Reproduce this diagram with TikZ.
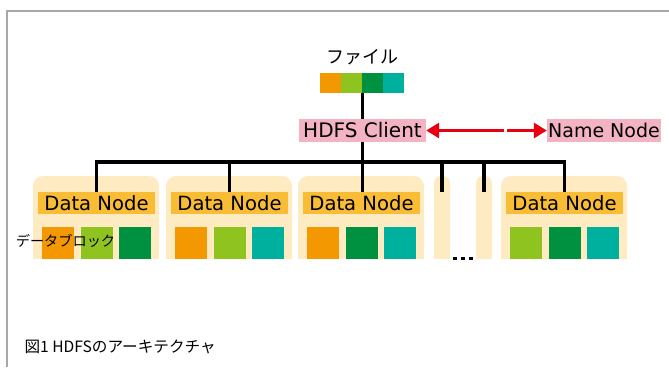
\documentclass[tikz,border=0pt]{standalone}
\usepackage{fontspec}
\setmainfont{DejaVu Sans}
\newfontfamily\cjk{Noto Sans CJK JP}
\usetikzlibrary{arrows.meta}
\definecolor{blkorange}{HTML}{F39800}
\definecolor{blklime}{HTML}{8FC31F}
\definecolor{blkgreen}{HTML}{009140}
\definecolor{blkteal}{HTML}{00B09F}
\definecolor{clientpink}{HTML}{F4B3C2}
\definecolor{labelyellow}{HTML}{F9BC35}
\definecolor{cream}{HTML}{FEEBC2}
\definecolor{arrowred}{HTML}{E60012}
\definecolor{framegray}{HTML}{A8A8A8}

\begin{document}
\begin{tikzpicture}[x = 1pt, y = -1pt,
    wire/.style = { line width = 3.2pt },
    fileblock/.style = { minimum width = 21pt, minimum height = 20pt, inner sep = 0pt, anchor = north west },
    block/.style = { minimum size = 32pt, inner sep = 0pt, anchor = north west },
    dnlabel/.style = { fill = labelyellow, minimum width = 117pt, minimum height = 22pt, inner sep = 0pt,
                       font = \fontsize{19.6pt}{22pt}\selectfont },
    pinklabel/.style = { fill = clientpink, minimum height = 23pt, inner sep = 0pt,
                         font = \fontsize{20pt}{22pt}\selectfont },
    redarrow/.style = { draw = arrowred, line width = 3pt, -{Triangle[length = 13pt, width = 15pt]} }]
    \useasboundingbox (0,0) rectangle (669,367);
    \draw[framegray, line width = 2pt] (7,367) -- (7,10.5) -- (669,10.5);

    \node[font = \cjk\fontsize{18pt}{20pt}\selectfont] (filelbl) at (362,57) {ファイル};
    \foreach \c [count = \i] in {blkorange, blklime, blkgreen, blkteal}
      \node[fileblock, fill = \c] (f\i) at (299+21*\i, 73) {};

    \node[pinklabel, minimum width = 127pt] (client) at (362.5,130.5) {HDFS Client};
    \node[pinklabel, minimum width = 114pt, font = \fontsize{19pt}{22pt}\selectfont] (name) at (604,130.5) {Name Node};
    \coordinate (gapl) at (504,130.5);
    \coordinate (gapr) at (507,130.5);
    \draw[redarrow] (gapl) -- (client.east);
    \draw[redarrow] (gapr) -- (name.west);

    \foreach \x/\n/\ca/\cb/\cc in {33/1/blkorange/blklime/blkgreen, 166/2/blkorange/blklime/blkteal,
                                   298/3/blkorange/blkgreen/blkteal, 501/5/blklime/blkgreen/blkteal} {
      \fill[cream, rounded corners = 10pt] (\x,176) rectangle ++(126,83);
      \fill[cream] (\x,220) rectangle ++(126,39);
      \node[dnlabel] (lbl\n) at (\x+63.5,203) {Data Node};
      \node[block, fill = \ca] (b\n a) at (\x+9,227) {};
      \node[block, fill = \cb] (b\n b) at (\x+48,227) {};
      \node[block, fill = \cc] (b\n c) at (\x+86,227) {};
    }
    \foreach \x in {434, 476} {
      \fill[cream, rounded corners = 7pt] (\x,176) rectangle ++(16,83);
      \fill[cream] (\x,200) rectangle ++(16,59);
    }
    \coordinate (sa) at (442,192);
    \coordinate (sb) at (484,192);
    \foreach \d in {0, 8, 16}
      \fill (453+\d,256.5) rectangle ++(3.7,3.7);
    \node[font = \cjk\fontsize{14.2pt}{16pt}\selectfont] (blocklbl) at (65.5,241) {データブロック};

    \coordinate (bus) at (0,162);
    \draw[wire] (f2.south east) -- (f2.south east |- client.north);
    \draw[wire] (client.south) -- (client.south |- lbl3.north);
    \draw[wire] (lbl1.north) -- (lbl1.north |- bus) -- (lbl5.north |- bus) -- (lbl5.north);
    \foreach \t in {lbl2.north, sa, sb}
      \draw[wire] (\t) -- (\t |- bus);

    \node[anchor = west, font = \cjk\fontsize{15.6pt}{17pt}\selectfont] (caption) at (21,347) {図1 HDFSのアーキテクチャ};
\end{tikzpicture}
\end{document}
